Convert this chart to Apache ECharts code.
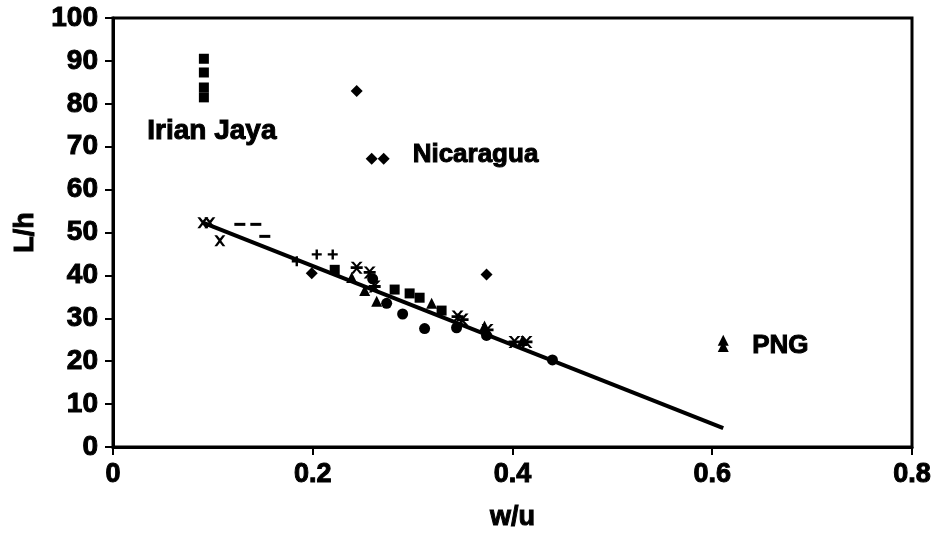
<!DOCTYPE html>
<html>
<head>
<meta charset="utf-8">
<script src="https://cdn.jsdelivr.net/npm/echarts@6/dist/echarts.min.js"></script>
<style>html,body{margin:0;padding:0;background:#fff}#c{width:938px;height:539px}</style>
</head>
<body>
<div id="c"></div>
<script>
// ---- data ----
const xTicks = [0, 0.2, 0.4, 0.6, 0.8];
const yTicks = [0, 10, 20, 30, 40, 50, 60, 70, 80, 90, 100];

const squareX = [0.091, 0.091, 0.091, 0.091, 0.222, 0.282, 0.297, 0.307, 0.329];
const squareY = [90.5, 87.3, 83.8, 81.5, 41.3, 36.7, 35.8, 34.8, 31.8];

const diamondX = [0.244, 0.259, 0.271, 0.374, 0.199];
const diamondY = [83.0, 67.2, 67.2, 40.2, 40.5];

const triangleX = [0.611, 0.611, 0.239, 0.252, 0.264, 0.319, 0.372, 0.41];
const triangleY = [24.9, 23.4, 39.5, 36.5, 34.0, 33.5, 28.2, 24.8];

const circleX = [0.26, 0.274, 0.29, 0.312, 0.344, 0.374, 0.44];
const circleY = [39.2, 33.5, 31.0, 27.6, 27.8, 26.0, 20.3];

const starX = [0.244, 0.257, 0.262, 0.345, 0.35, 0.375, 0.402, 0.414];
const starY = [41.8, 40.7, 37.4, 30.4, 29.7, 27.3, 24.5, 24.5];

const crossX = [0.09, 0.097, 0.107];
const crossY = [52.3, 52.3, 48.1];

const dashX = [0.127, 0.143, 0.152];
const dashY = [51.9, 51.9, 49.1];

const plusX = [0.184, 0.204, 0.22];
const plusY = [43.3, 44.9, 44.9];

const fitX = [0.09, 0.611];
const fitY = [52.3, 4.4];

const labelNames = ['Irian Jaya', 'Nicaragua', 'PNG'];
const labelX = [0.099, 0.30, 0.64];
const labelY = [73.6, 68.2, 23.6];

// ---- build ----
const zip = (xs, ys) => xs.map((x, i) => [x, ys[i]]);
const FONT = '"Liberation Sans", Arial, sans-serif';
const black = '#000';

const crossPath = 'path://M0,0L2.5,0L5,3L7.5,0L10,0L6.3,5L10,10L7.5,10L5,7L2.5,10L0,10L3.7,5Z';
const plusPath = 'path://M3.8,0L6.2,0L6.2,3.8L10,3.8L10,6.2L6.2,6.2L6.2,10L3.8,10L3.8,6.2L0,6.2L0,3.8L3.8,3.8Z';
const dashPath = 'path://M0,0L10,0L10,3L0,3Z';
const starPath = 'path://M0,0L2.5,0L5,3L7.5,0L10,0L6.5,3.8L10,3.8L10,6.2L6.5,6.2L10,10L7.5,10L5,7L2.5,10L0,10L3.5,6.2L0,6.2L0,3.8L3.5,3.8Z';

function sc(name, xs, ys, symbol, size) {
  return {
    name, type: 'scatter', data: zip(xs, ys), symbol, symbolSize: size,
    itemStyle: { color: black, opacity: 1 }, z: 3, animation: false
  };
}

const txt = (size) => ({ fontFamily: FONT, fontWeight: 'bold', fontSize: size, color: black, textBorderColor: black, textBorderWidth: 1 });

const option = {
  backgroundColor: '#fff',
  animation: false,
  grid: { left: 113, right: 26, top: 18, bottom: 92, show: true, borderColor: black, borderWidth: 3, backgroundColor: 'transparent' },
  xAxis: {
    type: 'value', min: 0, max: 0.8, interval: 0.2,
    name: 'w/u', nameLocation: 'middle', nameGap: 57,
    nameTextStyle: txt(27),
    axisLine: { show: true, lineStyle: { color: black, width: 3 } },
    axisTick: { show: true, length: 8, lineStyle: { color: black, width: 2 } },
    splitLine: { show: false },
    axisLabel: Object.assign({
      margin: 14,
      formatter: v => { const t = xTicks.find(k => Math.abs(k - v) < 1e-9); return t === undefined ? '' : String(t); }
    }, txt(27))
  },
  yAxis: {
    type: 'value', min: 0, max: 100, interval: 10,
    name: 'L/h', nameLocation: 'middle', nameGap: 69, nameRotate: 90,
    nameTextStyle: txt(27),
    axisLine: { show: true, lineStyle: { color: black, width: 3 } },
    axisTick: { show: true, length: 8, lineStyle: { color: black, width: 2 } },
    splitLine: { show: false },
    axisLabel: Object.assign({
      margin: 15,
      formatter: v => { const t = yTicks.find(k => Math.abs(k - v) < 1e-9); return t === undefined ? '' : String(t); }
    }, txt(28))
  },
  series: [
    {
      name: 'fit', type: 'line', data: zip(fitX, fitY), showSymbol: false, symbol: 'none',
      lineStyle: { color: black, width: 4 }, z: 2, animation: false
    },
    sc('squares', squareX, squareY, 'rect', 10),
    sc('diamonds', diamondX, diamondY, 'diamond', 12),
    sc('triangles', triangleX, triangleY, 'triangle', 11),
    sc('circles', circleX, circleY, 'circle', 11),
    sc('stars', starX, starY, starPath, 12),
    sc('crosses', crossX, crossY, crossPath, 11),
    sc('dashes', dashX, dashY, dashPath, [11, 3]),
    sc('pluses', plusX, plusY, plusPath, 10),
    {
      name: 'labels', type: 'scatter', symbolSize: 0, silent: true, animation: false,
      data: labelNames.map((n, i) => ({
        name: n, value: [labelX[i], labelY[i]],
        label: Object.assign({ show: true, position: i === 0 ? 'inside' : 'right', distance: 0, formatter: n }, txt(i === 0 ? 28 : 26))
      })),
      itemStyle: { color: 'transparent', opacity: 1 }
    }
  ]
};

const chart = echarts.init(document.getElementById('c'), null, { renderer: 'canvas' });
chart.setOption(option);
</script>
</body>
</html>
